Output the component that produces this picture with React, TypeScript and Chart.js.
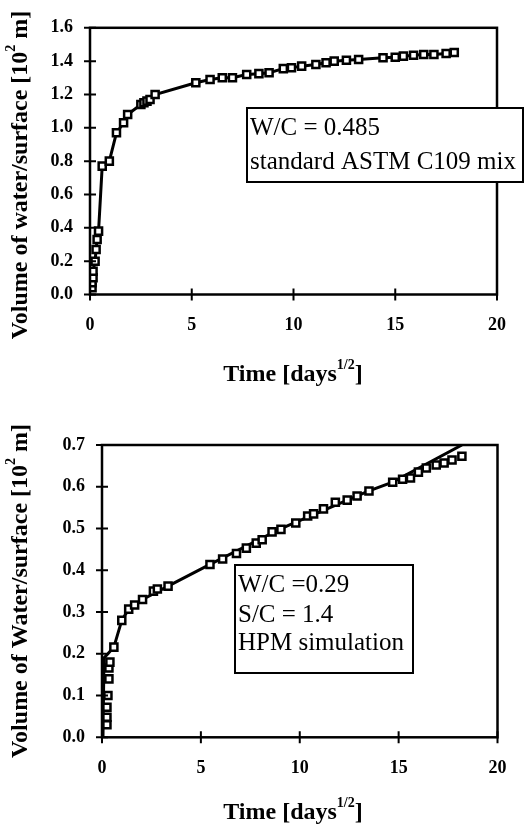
import React, { useEffect, useRef } from "react";
import { Chart, registerables } from "chart.js";
Chart.register(...registerables);

// ---------- data ----------
const topTime = [0.10, 0.10, 0.15, 0.15, 0.25, 0.30, 0.35, 0.42, 0.6, 0.95, 1.3, 1.65, 1.85, 2.5, 2.65, 2.8, 2.95, 3.2, 5.2, 5.9, 6.5, 7.0, 7.7, 8.3, 8.8, 9.5, 9.9, 10.4, 11.1, 11.6, 12.0, 12.6, 13.2, 14.4, 15.0, 15.4, 15.9, 16.4, 16.9, 17.5, 17.9];
const topVolume = [0.04, 0.07, 0.10, 0.14, 0.20, 0.27, 0.33, 0.38, 0.77, 0.80, 0.97, 1.03, 1.08, 1.14, 1.15, 1.16, 1.17, 1.20, 1.27, 1.29, 1.30, 1.30, 1.32, 1.325, 1.33, 1.355, 1.36, 1.37, 1.38, 1.39, 1.40, 1.405, 1.41, 1.42, 1.423, 1.43, 1.435, 1.44, 1.44, 1.446, 1.452];

const botTime = [0.25, 0.25, 0.25, 0.3, 0.35, 0.35, 0.4, 0.6, 1.0, 1.35, 1.65, 2.05, 2.6, 2.8, 3.34, 5.46, 6.1, 6.8, 7.3, 7.8, 8.1, 8.6, 9.05, 9.8, 10.4, 10.7, 11.2, 11.8, 12.4, 12.9, 13.5, 14.7, 15.2, 15.6, 16.0, 16.4, 16.9, 17.3, 17.7, 18.2];
const botVolume = [0.03, 0.048, 0.072, 0.10, 0.14, 0.166, 0.18, 0.216, 0.28, 0.307, 0.317, 0.33, 0.35, 0.355, 0.362, 0.414, 0.427, 0.44, 0.453, 0.465, 0.473, 0.492, 0.498, 0.513, 0.53, 0.535, 0.547, 0.563, 0.568, 0.578, 0.59, 0.611, 0.618, 0.621, 0.635, 0.645, 0.652, 0.657, 0.664, 0.673];
const botModelTime = [0.05, 0.1, 0.3, 0.6, 1.0, 1.35, 2.05, 3.34, 5.46, 9.05, 13.5, 14.7, 18.2];
const botModelVolume = [0.0, 0.19, 0.2, 0.216, 0.28, 0.307, 0.33, 0.362, 0.414, 0.50, 0.59, 0.611, 0.70];

const xTickValues = [0, 5, 10, 15, 20];
const topYTickValues = [0, 0.2, 0.4, 0.6, 0.8, 1.0, 1.2, 1.4, 1.6];
const botYTickValues = [0, 0.1, 0.2, 0.3, 0.4, 0.5, 0.6, 0.7];

const topBoxLines = ["W/C = 0.485", "standard ASTM C109 mix"];
const botBoxLines = ["W/C =0.29", "S/C = 1.4", "HPM simulation"];

const xTitle = [{ t: "Time [days" }, { t: "1/2", sup: true }, { t: "]" }];
const topYTitle = [{ t: "Volume of water/surface [10" }, { t: "2", sup: true }, { t: " m]" }];
const botYTitle = [{ t: "Volume of Water/surface [10" }, { t: "2", sup: true }, { t: " m]" }];

const SERIF = '"Liberation Serif", "Times New Roman", serif';

type Seg = { t: string; sup?: boolean };

function drawRich(ctx: CanvasRenderingContext2D, segs: Seg[], cx: number, cy: number, size: number) {
  const main = `bold ${size}px ${SERIF}`;
  const small = `bold ${Math.round(size * 0.6)}px ${SERIF}`;
  let total = 0;
  const widths = segs.map((s) => {
    ctx.font = s.sup ? small : main;
    const w = ctx.measureText(s.t).width;
    total += w;
    return w;
  });
  let x = cx - total / 2;
  ctx.textBaseline = "middle";
  ctx.textAlign = "left";
  ctx.fillStyle = "#000";
  segs.forEach((s, i) => {
    ctx.font = s.sup ? small : main;
    ctx.fillText(s.t, x, s.sup ? cy - size * 0.38 : cy);
    x += widths[i];
  });
}

interface Deco {
  yTitle: Seg[];
  yTitlePos: [number, number];
  xTitlePos: [number, number];
  box: [number, number, number, number];
  boxLines: string[];
  boxTextX: number;
  boxLineYs: number[];
}

function makePlugin(d: Deco) {
  return {
    id: "deco",
    afterDraw(chart: any) {
      const ctx: CanvasRenderingContext2D = chart.ctx;
      const a = chart.chartArea;
      const xs = chart.scales.x;
      const ys = chart.scales.y;
      ctx.save();
      ctx.strokeStyle = "#000";
      ctx.lineWidth = 2.5;
      ctx.strokeRect(a.left, a.top, a.right - a.left, a.bottom - a.top);
      ctx.lineWidth = 2;
      ctx.beginPath();
      ys.ticks.forEach((t: any) => {
        const p = ys.getPixelForValue(t.value);
        ctx.moveTo(a.left - 6, p);
        ctx.lineTo(a.left + 6, p);
      });
      xs.ticks.forEach((t: any) => {
        const p = xs.getPixelForValue(t.value);
        ctx.moveTo(p, a.bottom - 6);
        ctx.lineTo(p, a.bottom + 6);
      });
      ctx.stroke();
      // annotation box
      const [bx, by, bw, bh] = d.box;
      ctx.fillStyle = "#fff";
      ctx.fillRect(bx, by, bw, bh);
      ctx.lineWidth = 2;
      ctx.strokeRect(bx, by, bw, bh);
      ctx.fillStyle = "#000";
      ctx.font = `25px ${SERIF}`;
      ctx.textAlign = "left";
      ctx.textBaseline = "middle";
      d.boxLines.forEach((l, i) => ctx.fillText(l, d.boxTextX, d.boxLineYs[i]));
      // titles
      drawRich(ctx, xTitle, d.xTitlePos[0], d.xTitlePos[1], 24);
      ctx.translate(d.yTitlePos[0], d.yTitlePos[1]);
      ctx.rotate(-Math.PI / 2);
      drawRich(ctx, d.yTitle, 0, 0, 24);
      ctx.restore();
    },
  };
}

function buildConfig(opts: {
  datasets: any[];
  yMax: number;
  yTicks: number[];
  yWidth: number;
  xHeight: number;
  padding: any;
  deco: Deco;
}) {
  return {
    type: "scatter",
    data: { datasets: opts.datasets },
    options: {
      animation: false,
      responsive: false,
      layout: { padding: opts.padding },
      plugins: { legend: { display: false }, tooltip: { enabled: false } },
      scales: {
        x: {
          type: "linear",
          min: 0,
          max: 20,
          afterBuildTicks: (s: any) => {
            s.ticks = xTickValues.map((v) => ({ value: v }));
          },
          afterFit: (s: any) => {
            s.height = opts.xHeight;
          },
          ticks: { color: "#000", font: { family: SERIF, size: 18, weight: "bold" }, padding: 20, maxRotation: 0 },
          grid: { display: false, drawTicks: false },
          border: { display: false },
        },
        y: {
          type: "linear",
          min: 0,
          max: opts.yMax,
          afterBuildTicks: (s: any) => {
            s.ticks = opts.yTicks.map((v) => ({ value: v }));
          },
          afterFit: (s: any) => {
            s.width = opts.yWidth;
          },
          ticks: {
            color: "#000",
            font: { family: SERIF, size: 18, weight: "bold" },
            padding: 17,
            callback: (v: any) => Number(v).toFixed(1),
          },
          grid: { display: false, drawTicks: false },
          border: { display: false },
        },
      },
    },
    plugins: [makePlugin(opts.deco)],
  } as any;
}

const markerStyle = {
  pointStyle: "rect",
  pointRadius: 5,
  pointBorderWidth: 2.5,
  pointBorderColor: "#000",
  pointBackgroundColor: "#fff",
};

export default function App() {
  const topRef = useRef<HTMLCanvasElement>(null);
  const botRef = useRef<HTMLCanvasElement>(null);

  useEffect(() => {
    const top = new Chart(
      topRef.current!,
      buildConfig({
        datasets: [
          {
            data: topTime.map((x, i) => ({ x, y: topVolume[i] })),
            showLine: true,
            borderColor: "#000",
            borderWidth: 3,
            ...markerStyle,
          },
        ],
        yMax: 1.6,
        yTicks: topYTickValues,
        yWidth: 90,
        xHeight: 105.5,
        padding: { left: 0, right: 32, top: 15, bottom: 0 },
        deco: {
          yTitle: topYTitle,
          yTitlePos: [21, 175],
          xTitlePos: [293, 375],
          box: [247, 108, 276, 74],
          boxLines: topBoxLines,
          boxTextX: 250,
          boxLineYs: [128, 162],
        },
      })
    );
    const bot = new Chart(
      botRef.current!,
      buildConfig({
        datasets: [
          {
            data: botTime.map((x, i) => ({ x, y: botVolume[i] })),
            showLine: false,
            ...markerStyle,
          },
          {
            data: botModelTime.map((x, i) => ({ x, y: botModelVolume[i] })),
            showLine: true,
            borderColor: "#000",
            borderWidth: 3,
            pointRadius: 0,
          },
        ],
        yMax: 0.7,
        yTicks: botYTickValues,
        yWidth: 102,
        xHeight: 93.7,
        padding: { left: 0, right: 31.5, top: 45, bottom: 0 },
        deco: {
          yTitle: botYTitle,
          yTitlePos: [21, 191],
          xTitlePos: [293, 413],
          box: [235, 165, 178, 108],
          boxLines: botBoxLines,
          boxTextX: 238,
          boxLineYs: [185, 215, 243],
        },
      })
    );
    return () => {
      top.destroy();
      bot.destroy();
    };
  }, []);

  return (
    <div style={{ position: "absolute", left: 0, top: 0, width: 529, height: 831, background: "#fff" }}>
      <canvas ref={topRef} width={529} height={400} style={{ position: "absolute", left: 0, top: 0, width: 529, height: 400 }} />
      <canvas ref={botRef} width={529} height={431} style={{ position: "absolute", left: 0, top: 400, width: 529, height: 431 }} />
    </div>
  );
}
